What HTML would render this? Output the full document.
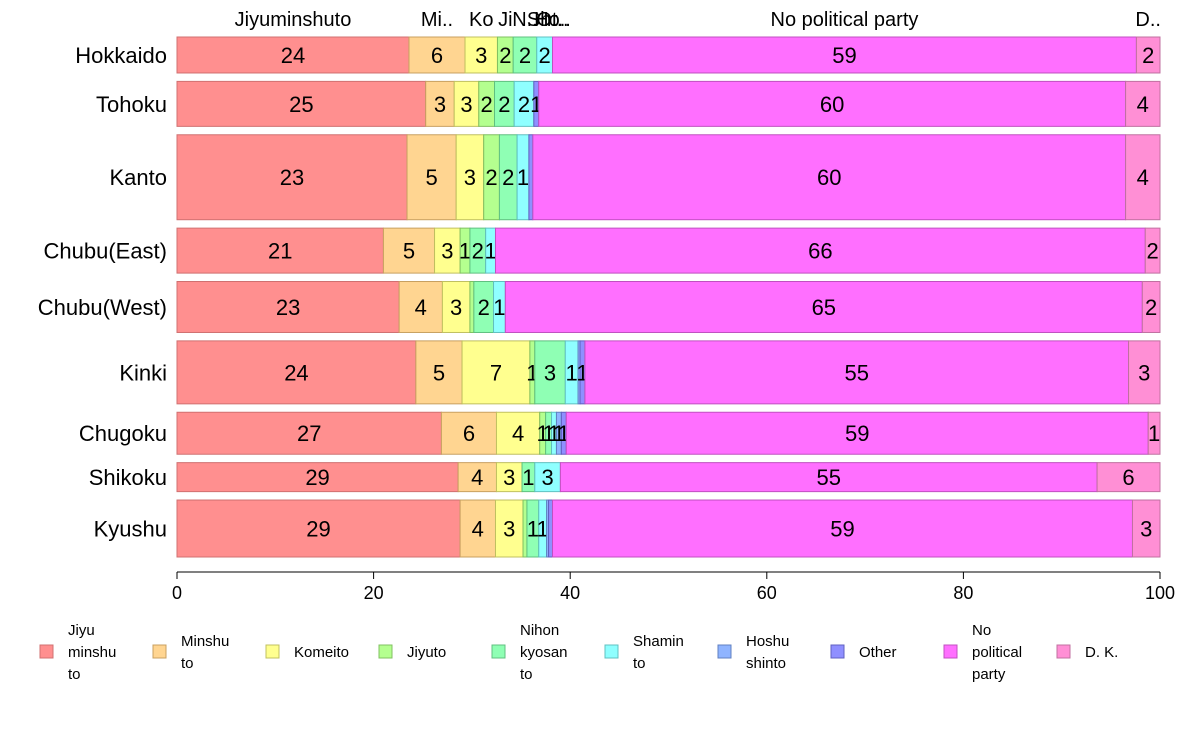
<!DOCTYPE html>
<html><head><meta charset="utf-8"><style>
body{margin:0;background:#fff;font-family:"Liberation Sans",Arial,sans-serif}
</style></head><body>
<svg id="chart" width="1188" height="736" xmlns="http://www.w3.org/2000/svg" font-family="Liberation Sans, Arial, sans-serif"></svg>
<script>
const regions=["Hokkaido","Tohoku","Kanto","Chubu(East)","Chubu(West)","Kinki","Chugoku","Shikoku","Kyushu"];
const rowWeights=[36,45,85,45,51,63,42,29,57];
const parties=["Jiyu minshu to","Minshu to","Komeito","Jiyuto","Nihon kyosan to","Shamin to","Hoshu shinto","Other","No political party","D. K."];
const topLabels=["Jiyuminshuto","Mi..","Ko","Ji","N..","Sh..","Ho..","Ot..","No political party","D.."];
const values=[
[23.6,5.7,3.3,1.6,2.4,1.6,0,0,59.4,2.4],
[25.3,2.9,2.5,1.6,2.0,2.0,0,0.5,59.7,3.5],
[23.4,5.0,2.8,1.6,1.8,1.2,0,0.4,60.3,3.5],
[21.0,5.2,2.6,1.0,1.6,1.0,0,0,66.1,1.5],
[22.6,4.4,2.8,0.4,2.0,1.2,0,0,64.8,1.8],
[24.3,4.7,6.9,0.5,3.1,1.3,0.2,0.5,55.3,3.2],
[26.9,5.6,4.4,0.6,0.6,0.5,0.5,0.5,59.2,1.2],
[28.6,3.9,2.6,0,1.3,2.6,0,0,54.6,6.4],
[28.8,3.6,2.8,0.4,1.2,0.8,0.2,0.4,59.0,2.8]];
const xTicks=[0,20,40,60,80,100];
const colors=["#ff8f8f","#ffd591","#ffff8f","#b4ff8f","#8fffb4","#8fffff","#8fb4ff","#8f8fff","#ff6fff","#ff8fd5"];
const strokes=["#d07070","#c8a060","#c0c060","#80c060","#60c080","#60c0c0","#6080c0","#6060c0","#c050c0","#c070a0"];
const legendLines=[["Jiyu","minshu","to"],["Minshu","to"],["Komeito"],["Jiyuto"],["Nihon","kyosan","to"],["Shamin","to"],["Hoshu","shinto"],["Other"],["No","political","party"],["D. K."]];
const svg=document.getElementById('chart');const NS="http://www.w3.org/2000/svg";
const X0=177,X1=1160,Y0=37,Y1=557,GAP=8.4;
const x=v=>X0+(X1-X0)*v/100;
function mk(t,a,p){const e=document.createElementNS(NS,t);for(const k in a)e.setAttribute(k,a[k]);(p||svg).appendChild(e);return e;}
const totW=rowWeights.reduce((a,b)=>a+b,0);
const unit=(Y1-Y0-GAP*(regions.length-1))/totW;
let y=Y0;
regions.forEach((r,i)=>{
 const h=rowWeights[i]*unit;
 const g=mk('g',{});
 
 
 const lab=mk('text',{x:167,y:y+h/2+8,'text-anchor':'end','font-size':22,fill:'#000'},g);
 lab.textContent=r;
 
 
 let c=0;
 values[i].forEach((v,j)=>{
  const rc=mk('rect',{x:x(c),y:y,width:Math.max(0,x(c+v)-x(c)),height:h,fill:colors[j],stroke:strokes[j],'stroke-width':1},g);
  
  
  if(v>=0.5){const t=mk('text',{x:(x(c)+x(c+v))/2,y:y+h/2+8,'text-anchor':'middle','font-size':22,fill:'#000'},g);
   t.textContent=Math.round(v);
   
   }
  if(i===0){const t=mk('text',{x:(x(c)+x(c+v))/2,y:26,'text-anchor':'middle','font-size':20,fill:'#000'});
   t.textContent=topLabels[j];
   
   }
  c+=v;});
 y+=h+GAP;});
const ax=mk('line',{x1:X0,x2:X1,y1:572,y2:572,stroke:'#000'});


xTicks.forEach(t=>{mk('line',{x1:x(t),x2:x(t),y1:572,y2:579,stroke:'#000'});
 const tx=mk('text',{x:x(t),y:599,'text-anchor':'middle','font-size':18});tx.textContent=t;
 
 });
parties.forEach((p,j)=>{const lx=40+113*j;
 const g=mk('g',{});
 
 
 mk('rect',{x:lx,y:645,width:13,height:13,fill:colors[j],stroke:strokes[j]},g);
 const L=legendLines[j];const n=L.length;
 L.forEach((s,k)=>{const t=mk('text',{x:lx+28,y:657+(k-(n-1)/2)*22,'font-size':15},g);t.textContent=s;});});
</script>
</body></html>
